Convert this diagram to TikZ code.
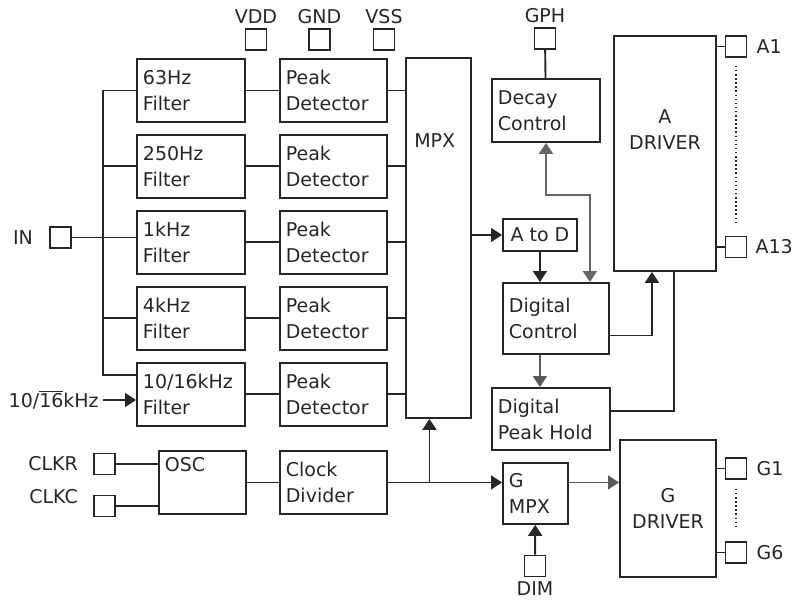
\documentclass[tikz,border=0pt]{standalone}
\usepackage{fontspec}
\setmainfont{DejaVu Sans}
\usetikzlibrary{positioning,arrows.meta,calc}

\begin{document}
\begin{tikzpicture}[x=1pt,y=-1pt,>={Triangle[length=11pt,width=14pt]},
  font=\fontsize{19}{26}\selectfont,line width=1.9pt,color=black!85,
  blk/.style={draw,rectangle,align=left,inner xsep=6pt,minimum height=63pt},
  pad/.style={draw,rectangle,minimum size=21pt,inner sep=0pt,line width=1.7pt},
  dots/.style={line width=1.8pt,dash pattern=on 1.5pt off 2.6pt}]
  \useasboundingbox (0,0) rectangle (795,600);
  \node[blk,anchor=north west,text width=96pt] (f1) at (136,58) {63Hz\\Filter};
  \node[blk,text width=96pt,below=11pt of f1] (f2) {250Hz\\Filter};
  \node[blk,text width=96pt,below=11pt of f2] (f3) {1kHz\\Filter};
  \node[blk,text width=96pt,below=11pt of f3] (f4) {4kHz\\Filter};
  \node[blk,text width=96pt,below=11pt of f4] (f5) {10/16kHz\\Filter};
  \foreach \i in {1,...,5}
    \node[blk,text width=95pt,right=33pt of f\i] (p\i) {Peak\\Detector};
  \node[blk,anchor=north west,minimum width=65pt,minimum height=360pt,
    label={[anchor=north west,xshift=5pt,yshift=-72pt]north west:MPX}] (mpx) at (405,57) {};
  \node[blk,anchor=north west,minimum width=87pt,
    label={[anchor=north west,inner sep=6pt]north west:OSC}] (osc) at (158,450) {};
  \node[blk,text width=95pt,right=32pt of osc] (clkdiv) {Clock\\Divider};
  \node[blk,anchor=north west,text width=96pt] (dec) at (491,78) {Decay\\Control};
  \node[blk,anchor=north west,align=center,minimum width=74pt,minimum height=32pt] (atod) at (502,218) {A to D};
  \node[blk,anchor=north west,text width=94pt,minimum height=71pt] (dctl) at (502,282) {Digital\\Control};
  \node[blk,anchor=north west,text width=106pt,minimum height=62pt] (dph) at (491,387) {Digital\\Peak Hold};
  \node[blk,anchor=north west,text width=53pt,minimum height=61pt] (gmpx) at (502,462) {G\\MPX};
  \node[blk,anchor=north west,minimum width=102pt,minimum height=235pt,
    label={[anchor=north,yshift=-70pt,align=center]north:A\\DRIVER}] (adrv) at (613,35) {};
  \node[blk,anchor=north west,align=center,text width=84pt,minimum height=137pt] (gdrv) at (619,439) {G\\DRIVER};

  \node[pad,label=above:VDD] (vdd) at (256,39.5) {};
  \node[pad,label=above:GND] (gnd) at (319.5,39.5) {};
  \node[pad,label=above:VSS] (vss) at (384,39.5) {};
  \node[pad,label=above:GPH] (gph) at (545,38.5) {};
  \node[pad,label={[label distance=12pt]left:IN}] (in) at (60.5,237.5) {};
  \node[pad,label={[label distance=11pt]left:CLKR}] (clkr) at (104.5,464) {};
  \node[pad,label={[label distance=11pt,yshift=9pt]left:CLKC}] (clkc) at (104.5,506) {};
  \node[pad,label={[label distance=5pt]right:A1}] (a1) at (736,46.5) {};
  \node[pad,label={[label distance=4pt]right:A13}] (a13) at (736,247) {};
  \node[pad,label={[label distance=5pt]right:G1}] (g1) at (736,468.5) {};
  \node[pad,label={[label distance=5pt]right:G6}] (g6) at (736,552.5) {};
  \node[pad,label=below:DIM] (dim) at (535,566) {};
  \node[anchor=east] (sel) at (103,400) {10/$\overline{\mbox{16}}$kHz};
  \coordinate (bus) at (103,0);
  \coordinate (br) at ([xshift=-9pt]mpx.south);

  \draw (in) -- (in -| f3.west);
  \draw (f1.west) -- (f1.west -| bus) |- ($(f5.north west)+(0,13)$);
  \draw (f2.west) -- (f2.west -| bus);
  \draw (f4.west) -- (f4.west -| bus);
  \draw[->] (sel) -- (sel -| f5.west);
  \foreach \i in {1,...,5}
    \draw (f\i) -- (p\i) -- (p\i -| mpx.west);
  \draw[->] (mpx.east |- atod) -- (atod);
  \draw (gph) -- (dec);
  \draw[<->,black!60] (dec.south) -- ++(0,52) -| ([xshift=-20pt]dctl.north east);
  \draw[->] (atod) -- (atod |- dctl.north);
  \draw[->,black!65] (dctl.south -| atod) -- (dph.north -| atod);
  \draw[->] ([yshift=-17pt]dctl.east) -| ([xshift=-13pt]adrv.south);
  \draw ([yshift=8pt]dph.east) -| ([xshift=9pt]adrv.south);
  \draw (clkr) -- (clkr -| osc.west);
  \draw (clkc) -- (clkc -| osc.west);
  \draw (osc) -- (clkdiv);
  \draw[->] (clkdiv) -- (clkdiv -| gmpx.west);
  \draw[->] (clkdiv -| br) -- (br);
  \draw[->,black!65] (clkdiv -| gmpx.east) -- (clkdiv -| gdrv.west);
  \draw[->] (dim) -- (gmpx);
  \draw (a1) -- (a1 -| adrv.east);
  \draw (a13) -- (a13 -| adrv.east);
  \draw (g1) -- (g1 -| gdrv.east);
  \draw (g6) -- (g6 -| gdrv.east);
  \draw[dots,shorten <=8pt,shorten >=10pt] (a1) -- (a13);
  \draw[dots,shorten <=9pt,shorten >=12pt] (g1) -- (g6);
\end{tikzpicture}
\end{document}
